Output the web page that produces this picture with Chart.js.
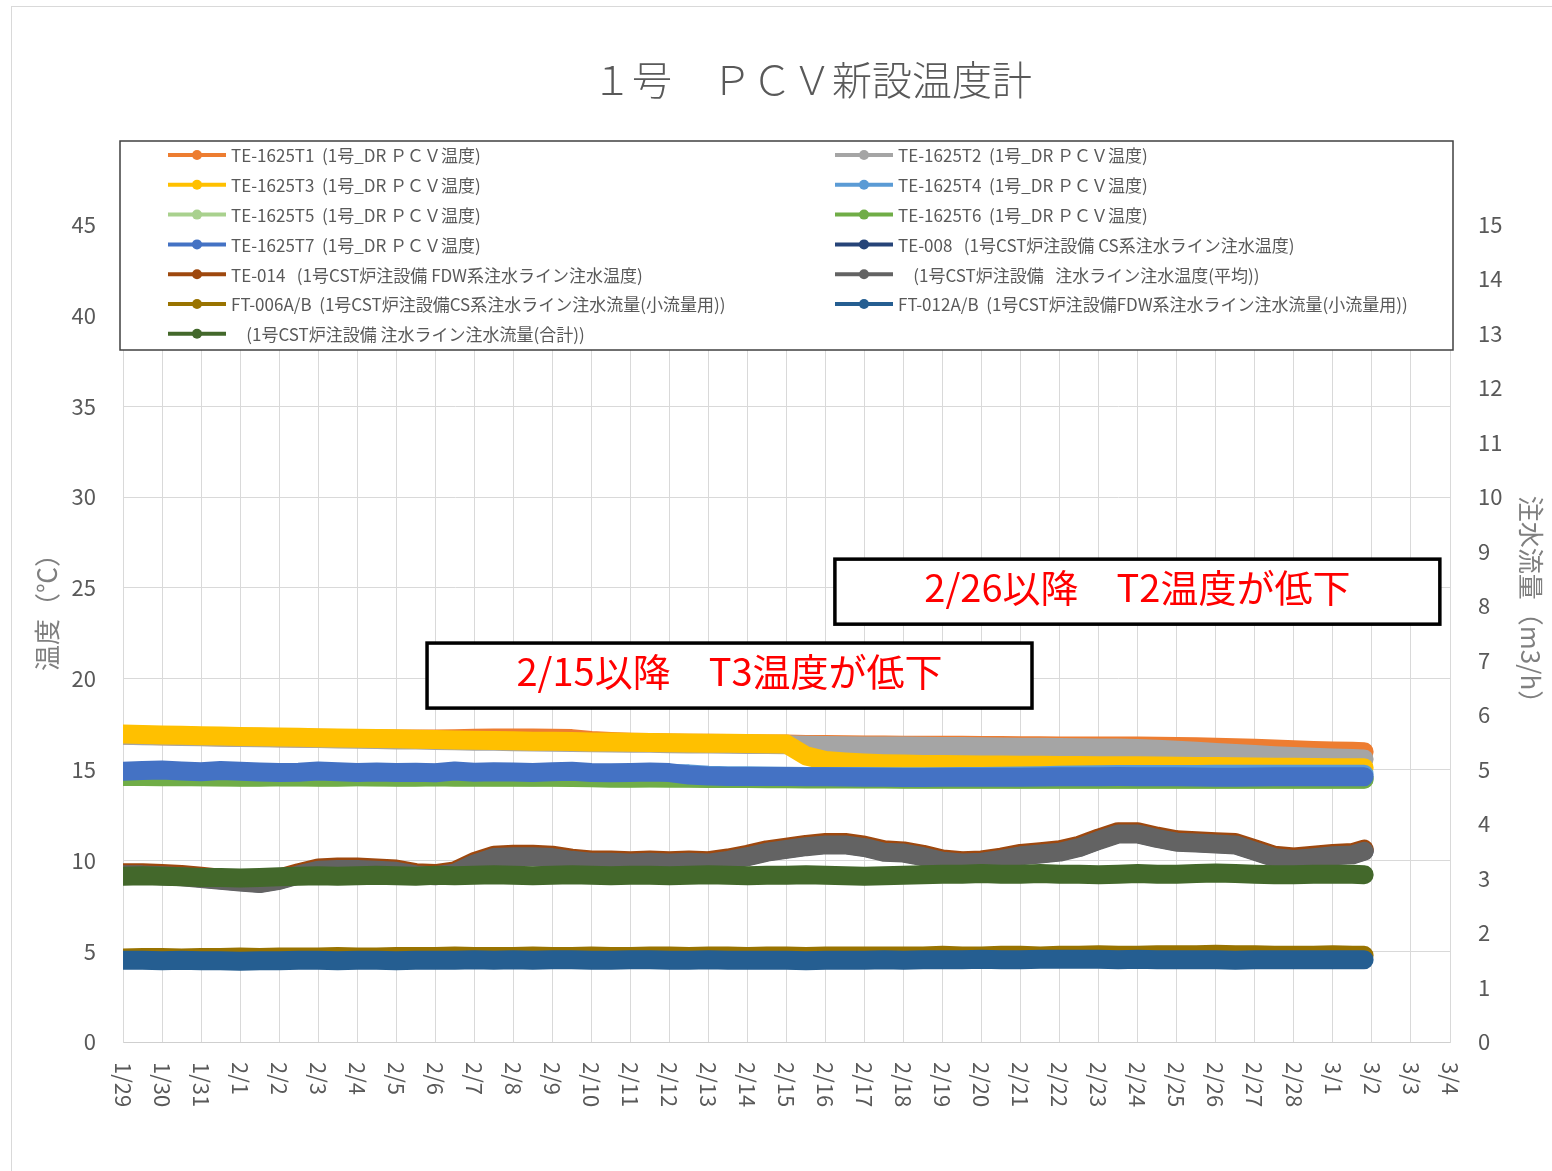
<!DOCTYPE html>
<html lang="ja">
<head>
<meta charset="utf-8">
<title>1号 PCV新設温度計</title>
<script src="https://cdn.jsdelivr.net/npm/chart.js@4.4.1/dist/chart.umd.min.js"></script>
<style>
    body { margin: 0; background: #fff; overflow: hidden; }
    #frame { position: absolute; left: 11px; top: 6px; border-left: 1px solid #d9d9d9; border-top: 1px solid #d9d9d9; }
    #chart { display: block; }
</style>
</head>
<body>
<div id="frame">
    <canvas id="chart" width="1600" height="1200"></canvas>
</div>
<script>
// x軸ラベル (1/29 = 0 日目)
const dayLabels = ["1/29", "1/30", "1/31", "2/1", "2/2", "2/3", "2/4", "2/5", "2/6", "2/7", "2/8", "2/9",
    "2/10", "2/11", "2/12", "2/13", "2/14", "2/15", "2/16", "2/17", "2/18", "2/19", "2/20", "2/21",
    "2/22", "2/23", "2/24", "2/25", "2/26", "2/27", "2/28", "3/1", "3/2", "3/3", "3/4"];

// 測定時刻 (1/29 からの日数)
const days = [0, 0.5, 1, 1.5, 2, 2.5, 3, 3.5, 4, 4.5,
    5, 5.5, 6, 6.5, 7, 7.5, 8, 8.5, 9, 9.5,
    10, 10.5, 11, 11.5, 12, 12.5, 13, 13.5, 14, 14.5,
    15, 15.5, 16, 16.5, 17, 17.5, 18, 18.5, 19, 19.5,
    20, 20.5, 21, 21.5, 22, 22.5, 23, 23.5, 24, 24.5,
    25, 25.5, 26, 26.5, 27, 27.5, 28, 28.5, 29, 29.5,
    30, 30.5, 31, 31.5, 31.8];

// 温度 (℃)
const te1625T1 = [16.9, 16.88, 16.86, 16.84, 16.82, 16.8, 16.78, 16.77, 16.75, 16.74,
    16.72, 16.71, 16.7, 16.69, 16.68, 16.68, 16.68, 16.69, 16.72, 16.74,
    16.74, 16.73, 16.72, 16.7, 16.6, 16.54, 16.5, 16.48, 16.46, 16.45,
    16.44, 16.43, 16.42, 16.41, 16.4, 16.38, 16.37, 16.36, 16.35, 16.35,
    16.34, 16.34, 16.33, 16.33, 16.32, 16.32, 16.31, 16.31, 16.3, 16.3,
    16.3, 16.3, 16.29, 16.28, 16.27, 16.25, 16.23, 16.2, 16.17, 16.13,
    16.09, 16.05, 16.02, 16.0, 15.98];
const te1625T2 = [16.88, 16.86, 16.84, 16.82, 16.8, 16.78, 16.76, 16.75, 16.73, 16.72,
    16.7, 16.68, 16.66, 16.65, 16.63, 16.62, 16.6, 16.58, 16.56, 16.55,
    16.53, 16.52, 16.5, 16.49, 16.47, 16.46, 16.45, 16.44, 16.42, 16.41,
    16.4, 16.39, 16.38, 16.37, 16.36, 16.34, 16.32, 16.31, 16.3, 16.3,
    16.29, 16.28, 16.27, 16.26, 16.25, 16.24, 16.23, 16.22, 16.21, 16.2,
    16.19, 16.18, 16.16, 16.12, 16.06, 16.0, 15.94, 15.88, 15.82, 15.76,
    15.71, 15.67, 15.63, 15.6, 15.58];
const te1625T3 = [16.95, 16.93, 16.9, 16.88, 16.86, 16.84, 16.82, 16.8, 16.79, 16.77,
    16.75, 16.74, 16.72, 16.7, 16.69, 16.67, 16.65, 16.63, 16.61, 16.6,
    16.58, 16.56, 16.55, 16.54, 16.52, 16.51, 16.5, 16.48, 16.47, 16.46,
    16.45, 16.44, 16.43, 16.42, 16.4, 15.75, 15.5, 15.42, 15.36, 15.32,
    15.3, 15.28, 15.27, 15.26, 15.25, 15.25, 15.24, 15.23, 15.22, 15.22,
    15.21, 15.2, 15.2, 15.19, 15.18, 15.17, 15.16, 15.15, 15.14, 15.13,
    15.12, 15.11, 15.1, 15.1, 15.1];
const te1625T4 = [14.86, 14.86, 14.85, 14.85, 14.84, 14.84, 14.84, 14.83, 14.83, 14.83,
    14.82, 14.82, 14.82, 14.81, 14.81, 14.81, 14.8, 14.8, 14.8, 14.79,
    14.79, 14.79, 14.78, 14.78, 14.78, 14.77, 14.77, 14.77, 14.76, 14.76,
    14.68, 14.66, 14.65, 14.64, 14.63, 14.62, 14.62, 14.61, 14.61, 14.6,
    14.6, 14.6, 14.6, 14.61, 14.62, 14.63, 14.64, 14.66, 14.68, 14.7,
    14.71, 14.72, 14.72, 14.73, 14.73, 14.73, 14.74, 14.74, 14.74, 14.74,
    14.74, 14.74, 14.74, 14.74, 14.74];
const te1625T5 = [14.66, 14.64, 14.65, 14.63, 14.6, 14.58, 14.6, 14.62, 14.58, 14.57,
    14.6, 14.62, 14.6, 14.58, 14.6, 14.62, 14.6, 14.62, 14.61, 14.6,
    14.6, 14.58, 14.6, 14.58, 14.57, 14.56, 14.55, 14.55, 14.56, 14.55,
    14.54, 14.53, 14.52, 14.52, 14.51, 14.5, 14.5, 14.5, 14.49, 14.49,
    14.49, 14.48, 14.48, 14.48, 14.48, 14.48, 14.47, 14.47, 14.47, 14.47,
    14.47, 14.47, 14.47, 14.47, 14.47, 14.47, 14.47, 14.47, 14.47, 14.47,
    14.47, 14.47, 14.47, 14.47, 14.47];
const te1625T6 = [14.62, 14.62, 14.6, 14.6, 14.62, 14.6, 14.58, 14.58, 14.6, 14.6,
    14.58, 14.58, 14.6, 14.6, 14.58, 14.58, 14.6, 14.58, 14.58, 14.58,
    14.57, 14.57, 14.58, 14.56, 14.55, 14.52, 14.52, 14.53, 14.52, 14.52,
    14.5, 14.5, 14.5, 14.49, 14.49, 14.48, 14.48, 14.48, 14.48, 14.48,
    14.47, 14.47, 14.47, 14.47, 14.47, 14.47, 14.46, 14.46, 14.46, 14.46,
    14.46, 14.46, 14.46, 14.46, 14.46, 14.46, 14.46, 14.46, 14.46, 14.46,
    14.46, 14.46, 14.46, 14.46, 14.46];
const te1625T7 = [14.9, 14.95, 14.97, 14.92, 14.88, 14.95, 14.9, 14.86, 14.84, 14.85,
    14.92, 14.88, 14.84, 14.86, 14.83, 14.85, 14.82, 14.92, 14.85, 14.88,
    14.86, 14.84, 14.87, 14.9, 14.84, 14.82, 14.84, 14.86, 14.83, 14.7,
    14.64, 14.62, 14.62, 14.61, 14.62, 14.6, 14.6, 14.59, 14.58, 14.57,
    14.56, 14.56, 14.57, 14.57, 14.58, 14.58, 14.58, 14.59, 14.6, 14.6,
    14.6, 14.61, 14.6, 14.6, 14.6, 14.59, 14.58, 14.58, 14.59, 14.6,
    14.6, 14.6, 14.6, 14.6, 14.6];
const te008 = [9.23, 9.23, 9.18, 9.13, 9.03, 8.93, 8.83, 8.75, 8.93, 9.23,
    9.48, 9.53, 9.53, 9.48, 9.43, 9.23, 9.18, 9.33, 9.83, 10.18,
    10.23, 10.23, 10.18, 10.03, 9.93, 9.93, 9.88, 9.93, 9.88, 9.93,
    9.88, 10.03, 10.23, 10.48, 10.63, 10.78, 10.88, 10.88, 10.73, 10.48,
    10.43, 10.23, 9.98, 9.88, 9.93, 10.08, 10.28, 10.38, 10.48, 10.73,
    11.13, 11.48, 11.48, 11.23, 11.03, 10.98, 10.93, 10.88, 10.53, 10.18,
    10.08, 10.18, 10.28, 10.33, 10.53];
const te014 = [9.32, 9.32, 9.27, 9.22, 9.12, 9.02, 8.92, 8.84, 9.02, 9.32,
    9.58, 9.63, 9.63, 9.58, 9.52, 9.32, 9.27, 9.42, 9.93, 10.28,
    10.33, 10.33, 10.28, 10.12, 10.02, 10.02, 9.98, 10.02, 9.98, 10.02,
    9.98, 10.13, 10.33, 10.58, 10.73, 10.88, 10.98, 10.98, 10.83, 10.58,
    10.52, 10.33, 10.08, 9.98, 10.02, 10.18, 10.38, 10.48, 10.58, 10.83,
    11.23, 11.58, 11.58, 11.33, 11.13, 11.08, 11.03, 10.98, 10.63, 10.28,
    10.18, 10.28, 10.38, 10.43, 10.62];
const injTempAvg = [9.2, 9.2, 9.15, 9.1, 9.0, 8.9, 8.8, 8.72, 8.9, 9.2,
    9.45, 9.5, 9.5, 9.45, 9.4, 9.2, 9.15, 9.3, 9.8, 10.15,
    10.2, 10.2, 10.15, 10.0, 9.9, 9.9, 9.85, 9.9, 9.85, 9.9,
    9.85, 10.0, 10.2, 10.45, 10.6, 10.75, 10.85, 10.85, 10.7, 10.45,
    10.4, 10.2, 9.95, 9.85, 9.9, 10.05, 10.25, 10.35, 10.45, 10.7,
    11.1, 11.45, 11.45, 11.2, 11.0, 10.95, 10.9, 10.85, 10.5, 10.15,
    10.05, 10.15, 10.25, 10.3, 10.5];

// 注水流量 (m3/h)
const ft006 = [1.54, 1.55, 1.55, 1.54, 1.55, 1.55, 1.56, 1.55, 1.56, 1.56,
    1.56, 1.57, 1.56, 1.56, 1.57, 1.57, 1.57, 1.58, 1.57, 1.57,
    1.57, 1.58, 1.57, 1.57, 1.58, 1.57, 1.57, 1.58, 1.58, 1.57,
    1.58, 1.58, 1.57, 1.58, 1.58, 1.57, 1.58, 1.58, 1.58, 1.58,
    1.58, 1.58, 1.59, 1.58, 1.58, 1.59, 1.59, 1.58, 1.59, 1.59,
    1.6, 1.59, 1.59, 1.6, 1.6, 1.6, 1.61, 1.6, 1.6, 1.59,
    1.59, 1.59, 1.6, 1.59, 1.59];
const ft012 = [1.5, 1.5, 1.49, 1.5, 1.49, 1.49, 1.48, 1.49, 1.49, 1.5,
    1.5, 1.49, 1.5, 1.5, 1.49, 1.5, 1.5, 1.5, 1.51, 1.5,
    1.51, 1.5, 1.51, 1.51, 1.5, 1.5, 1.51, 1.51, 1.5, 1.5,
    1.51, 1.5, 1.5, 1.5, 1.5, 1.49, 1.5, 1.5, 1.5, 1.51,
    1.5, 1.51, 1.51, 1.51, 1.52, 1.51, 1.51, 1.52, 1.52, 1.52,
    1.52, 1.51, 1.52, 1.51, 1.51, 1.51, 1.51, 1.5, 1.51, 1.51,
    1.51, 1.51, 1.51, 1.51, 1.51];
const injFlowTotal = [3.04, 3.05, 3.04, 3.03, 3.02, 3.02, 3.01, 3.02, 3.03, 3.04,
    3.05, 3.04, 3.05, 3.06, 3.05, 3.04, 3.06, 3.05, 3.06, 3.07,
    3.06, 3.05, 3.06, 3.07, 3.06, 3.05, 3.06, 3.06, 3.05, 3.06,
    3.07, 3.06, 3.05, 3.06, 3.06, 3.07, 3.06, 3.05, 3.04, 3.05,
    3.06, 3.07, 3.08, 3.08, 3.09, 3.08, 3.08, 3.09, 3.08, 3.08,
    3.07, 3.08, 3.09, 3.08, 3.08, 3.09, 3.1, 3.09, 3.08, 3.07,
    3.07, 3.08, 3.08, 3.08, 3.07];

const seriesLabels = [
    "TE-1625T1  (1号_DR ＰＣＶ温度)",
    "TE-1625T2  (1号_DR ＰＣＶ温度)",
    "TE-1625T3  (1号_DR ＰＣＶ温度)",
    "TE-1625T4  (1号_DR ＰＣＶ温度)",
    "TE-1625T5  (1号_DR ＰＣＶ温度)",
    "TE-1625T6  (1号_DR ＰＣＶ温度)",
    "TE-1625T7  (1号_DR ＰＣＶ温度)",
    "TE-008   (1号CST炉注設備 CS系注水ライン注水温度)",
    "TE-014   (1号CST炉注設備 FDW系注水ライン注水温度)",
    "    (1号CST炉注設備   注水ライン注水温度(平均))",
    "FT-006A/B  (1号CST炉注設備CS系注水ライン注水流量(小流量用))",
    "FT-012A/B  (1号CST炉注設備FDW系注水ライン注水流量(小流量用))",
    "    (1号CST炉注設備 注水ライン注水流量(合計))"
];
const seriesValues = [te1625T1, te1625T2, te1625T3, te1625T4, te1625T5, te1625T6, te1625T7,
    te008, te014, injTempAvg, ft006, ft012, injFlowTotal];
const seriesAxis = ["y", "y", "y", "y", "y", "y", "y", "y", "y", "y", "y1", "y1", "y1"];
const seriesColors = ["#ED7D31", "#A5A5A5", "#FFC000", "#5B9BD5", "#A9D18E", "#70AD47", "#4472C4",
    "#264478", "#9E480E", "#636363", "#997300", "#255E91", "#43682B"];

const FONT = '"Noto Sans CJK JP", "Noto Sans", sans-serif';

// 吹き出し (日数 / ℃ の座標で配置)
const notes = [
    { text: "2/26以降　T2温度が低下", x0: 18.24, x1: 33.74, y0: 26.58, y1: 23.0 },
    { text: "2/15以降　T3温度が低下", x0: 7.79, x1: 23.29, y0: 21.96, y1: 18.38 }
];

const datasets = seriesValues.map((values, i) => ({
    label: seriesLabels[i],
    data: days.map((d, k) => ({ x: d, y: values[k] })),
    yAxisID: seriesAxis[i],
    borderColor: seriesColors[i],
    backgroundColor: seriesColors[i],
    borderWidth: 19,
    borderCapStyle: "round",
    borderJoinStyle: "round",
    pointRadius: 0,
    tension: 0,
    order: seriesValues.length - i, // Excelと同じく後の系列を上に描く
}));

const overlay = {
    id: "overlay",
    afterDraw(chart) {
        const { ctx, chartArea, scales } = chart;
        const xs = scales.x;
        const ys = scales.y;

        // 日付ラベル (時計回りに90度)
        ctx.save();
        ctx.font = "22px " + FONT;
        ctx.fillStyle = "#595959";
        ctx.textAlign = "left";
        ctx.textBaseline = "middle";
        xs.ticks.forEach((tick) => {
            const label = dayLabels[tick.value];
            if (label === undefined) return;
            ctx.save();
            ctx.translate(xs.getPixelForValue(tick.value), chartArea.bottom + 20);
            ctx.rotate(Math.PI / 2);
            ctx.fillText(label, 0, 0);
            ctx.restore();
        });
        ctx.restore();

        // 凡例ボックス
        const box = { left: chartArea.left - 3, top: 134, right: chartArea.right + 3, bottom: 343 };
        ctx.save();
        ctx.fillStyle = "#fff";
        ctx.fillRect(box.left, box.top, box.right - box.left, box.bottom - box.top);
        ctx.strokeStyle = "#404040";
        ctx.lineWidth = 1.5;
        ctx.strokeRect(box.left, box.top, box.right - box.left, box.bottom - box.top);
        ctx.font = "17px " + FONT;
        ctx.textBaseline = "middle";
        ctx.textAlign = "left";
        const colX = [box.left + 48, box.left + 715];
        chart.data.datasets.forEach((ds, i) => {
            const x = colX[i % 2];
            const y = box.top + 14 + Math.floor(i / 2) * 29.8;
            ctx.strokeStyle = ds.borderColor;
            ctx.lineWidth = 4;
            ctx.beginPath();
            ctx.moveTo(x, y);
            ctx.lineTo(x + 58, y);
            ctx.stroke();
            ctx.fillStyle = ds.borderColor;
            ctx.beginPath();
            ctx.arc(x + 29, y, 5, 0, Math.PI * 2);
            ctx.fill();
            ctx.fillStyle = "#595959";
            ctx.fillText(ds.label, x + 63, y + 1);
        });
        ctx.restore();

        // 注記
        ctx.save();
        notes.forEach((n) => {
            const l = xs.getPixelForValue(n.x0), r = xs.getPixelForValue(n.x1);
            const t = ys.getPixelForValue(n.y0), b = ys.getPixelForValue(n.y1);
            ctx.fillStyle = "#fff";
            ctx.fillRect(l, t, r - l, b - t);
            ctx.strokeStyle = "#000";
            ctx.lineWidth = 3.5;
            ctx.strokeRect(l, t, r - l, b - t);
            ctx.fillStyle = "#FF0000";
            ctx.font = "38px " + FONT;
            ctx.textAlign = "center";
            ctx.textBaseline = "middle";
            ctx.fillText(n.text, (l + r) / 2, (t + b) / 2 - 4);
        });
        ctx.restore();
    }
};

const ctx = document.getElementById("chart").getContext("2d");

new Chart(ctx, {
    type: "line",
    data: { datasets },
    plugins: [overlay],
    options: {
        responsive: false,
        animation: false,
        devicePixelRatio: 1,
        layout: { padding: 0 },
        plugins: {
            legend: { display: false },
            tooltip: { enabled: false },
            title: {
                display: true,
                text: "１号　ＰＣＶ新設温度計",
                color: "#595959",
                font: { family: FONT, size: 40, weight: 300, lineHeight: 1.2 },
                padding: { top: 49, bottom: 66 },
            },
        },
        scales: {
            x: {
                type: "linear",
                min: 0,
                max: 34,
                ticks: { display: false, stepSize: 1 },
                grid: { color: "#d9d9d9", drawTicks: false },
                border: { color: "#cfcfcf" },
                afterFit: (scale) => { scale.height = 165; },
            },
            y: {
                position: "left",
                min: 0,
                max: 48,
                ticks: {
                    stepSize: 5,
                    padding: 27,
                    color: "#595959",
                    font: { family: FONT, size: 22 },
                    callback: (v) => (v > 45 ? "" : v),
                },
                grid: { color: "#d9d9d9", drawTicks: false },
                border: { color: "#d9d9d9" },
                title: {
                    display: true,
                    text: "温度（℃）",
                    color: "#7f7f7f",
                    font: { family: FONT, size: 26 },
                    padding: { top: 20 },
                },
                afterFit: (scale) => { scale.width = 111; },
            },
            y1: {
                position: "right",
                min: 0,
                max: 16,
                ticks: {
                    stepSize: 1,
                    padding: 28,
                    color: "#595959",
                    font: { family: FONT, size: 22 },
                    callback: (v) => (v > 15 ? "" : v),
                },
                grid: { drawOnChartArea: false, drawTicks: false },
                border: { color: "#d9d9d9" },
                title: {
                    display: true,
                    text: "注水流量（m3/h）",
                    color: "#7f7f7f",
                    font: { family: FONT, size: 26 },
                    padding: { top: 66 },
                },
                afterFit: (scale) => { scale.width = 162; },
            },
        },
    },
});
</script>
</body>
</html>
